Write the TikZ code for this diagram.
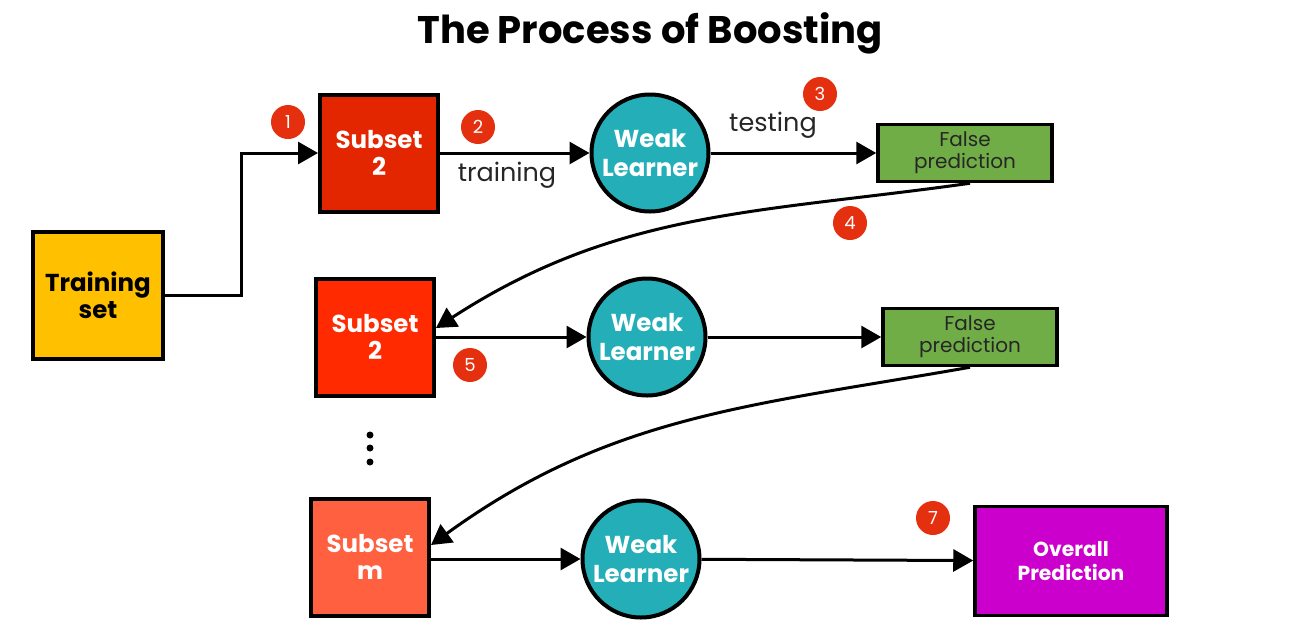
\documentclass[tikz,border=0pt]{standalone}
\usepackage{fontspec}
\setmainfont{Poppins}
\usepackage{tikz}
\usetikzlibrary{shapes.geometric, arrows.meta}
\definecolor{trainyellow}{HTML}{FFC000}
\definecolor{subdark}{HTML}{E32600}
\definecolor{submid}{HTML}{FF2A00}
\definecolor{sublight}{HTML}{FF6040}
\definecolor{learnteal}{HTML}{23AEB8}
\definecolor{falsegreen}{HTML}{70AD47}
\definecolor{overallpink}{HTML}{CC00CC}
\definecolor{badgered}{HTML}{E5300F}
\tikzstyle{trainbox} = [rectangle, 
minimum width=130pt, 
minimum height=127pt,
inner sep=0pt,
align=center, 
line width=4pt,
draw=black, 
fill=trainyellow,
font=\bfseries\fontsize{24.5}{27}\selectfont]
\tikzstyle{subset} = [rectangle, 
minimum width=118pt, 
minimum height=117pt,
inner sep=0pt,
align=center, 
line width=4pt,
draw=black, 
text=white,
font=\bfseries\fontsize{24.5}{27}\selectfont]
\tikzstyle{learner} = [circle, 
minimum size=117pt, 
inner sep=0pt,
align=center, 
line width=4pt,
draw=black, 
fill=learnteal,
text=white,
font=\bfseries\fontsize{24.5}{29}\selectfont]
\tikzstyle{falsebox} = [rectangle, 
minimum width=174pt, 
minimum height=57pt,
inner sep=0pt,
align=center, 
line width=3.5pt,
draw=black, 
fill=falsegreen,
text=black!85,
font=\fontsize{20}{22}\selectfont]
\tikzstyle{overallbox} = [rectangle, 
minimum width=192pt, 
minimum height=109pt,
inner sep=0pt,
align=center, 
line width=3.5pt,
draw=black, 
fill=overallpink,
text=white,
font=\bfseries\fontsize{20.3}{24}\selectfont]
\tikzstyle{badge} = [circle, minimum size=34pt, inner sep=0pt, fill=badgered, text=white, font=\fontsize{18}{18}\selectfont]
\tikzstyle{lbl} = [text=black!85, font=\fontsize{25.5}{25.5}\selectfont]
\tikzstyle{arrow} = [line width=3pt,-{Triangle[length=20pt,width=22pt]}]

\begin{document}
\begin{tikzpicture}[x=1pt, y=-1pt, node distance=270pt]
\useasboundingbox (0,0) rectangle (1302,625);

\node (title) at (650,33) [font=\bfseries\fontsize{38.5}{38.5}\selectfont] {The Process of Boosting};

\node (train) at (98,295) [trainbox] {Training\\set};

\node (sub1) at (379,153) [subset, fill=subdark] {Subset\\2};
\node (wl1) [learner, right of=sub1, xshift=1pt] {Weak\\Learner};
\node (fp1) [falsebox, right of=wl1, xshift=45pt] {False\\prediction};

\node (sub2) at (375,337) [subset, fill=submid] {Subset\\2};
\node (wl2) [learner, right of=sub2, xshift=2pt] {Weak\\Learner};
\node (fp2) [falsebox, right of=wl2, xshift=53pt] {False\\prediction};

\node (subm) at (370,557) [subset, fill=sublight] {Subset\\m};
\node (wl3) [learner, right of=subm, xshift=1pt, yshift=-2pt] {Weak\\Learner};
\node (overall) [overallbox, right of=wl3, xshift=160pt, yshift=-2pt] {Overall\\Prediction};

\foreach \y in {435,448,462}
  \fill (370,\y) circle (3.5pt);

\node (train label) at (507,175) [lbl] {training};
\node (test label) at (773,125) [lbl] {testing};

\node (b1) at (288,122) [badge] {1};
\node (b2) at (478,127) [badge] {2};
\node (b3) at (820,94) [badge] {3};
\node (b4) at (850,223) [badge] {4};
\node (b5) at (470,365) [badge] {5};
\node (b7) at (933,518) [badge] {7};

\draw [arrow] (train.east) -- ++(76,0) |- (sub1.west);
\draw [arrow] (sub1) -- (wl1);
\draw [arrow] (wl1) -- (fp1);
\draw [arrow] ([xshift=5pt]fp1.south) to[out=188, in=33] ([yshift=9pt]sub2.east);
\draw [arrow] (sub2) -- (wl2);
\draw [arrow] (wl2) -- (fp2);
\draw [arrow] (fp2.south) to[out=190, in=36] ([yshift=12pt]subm.east);
\draw [arrow] (subm.east |- wl3) -- (wl3);
\draw [arrow] (wl3) -- (overall);

\end{tikzpicture}
\end{document}
